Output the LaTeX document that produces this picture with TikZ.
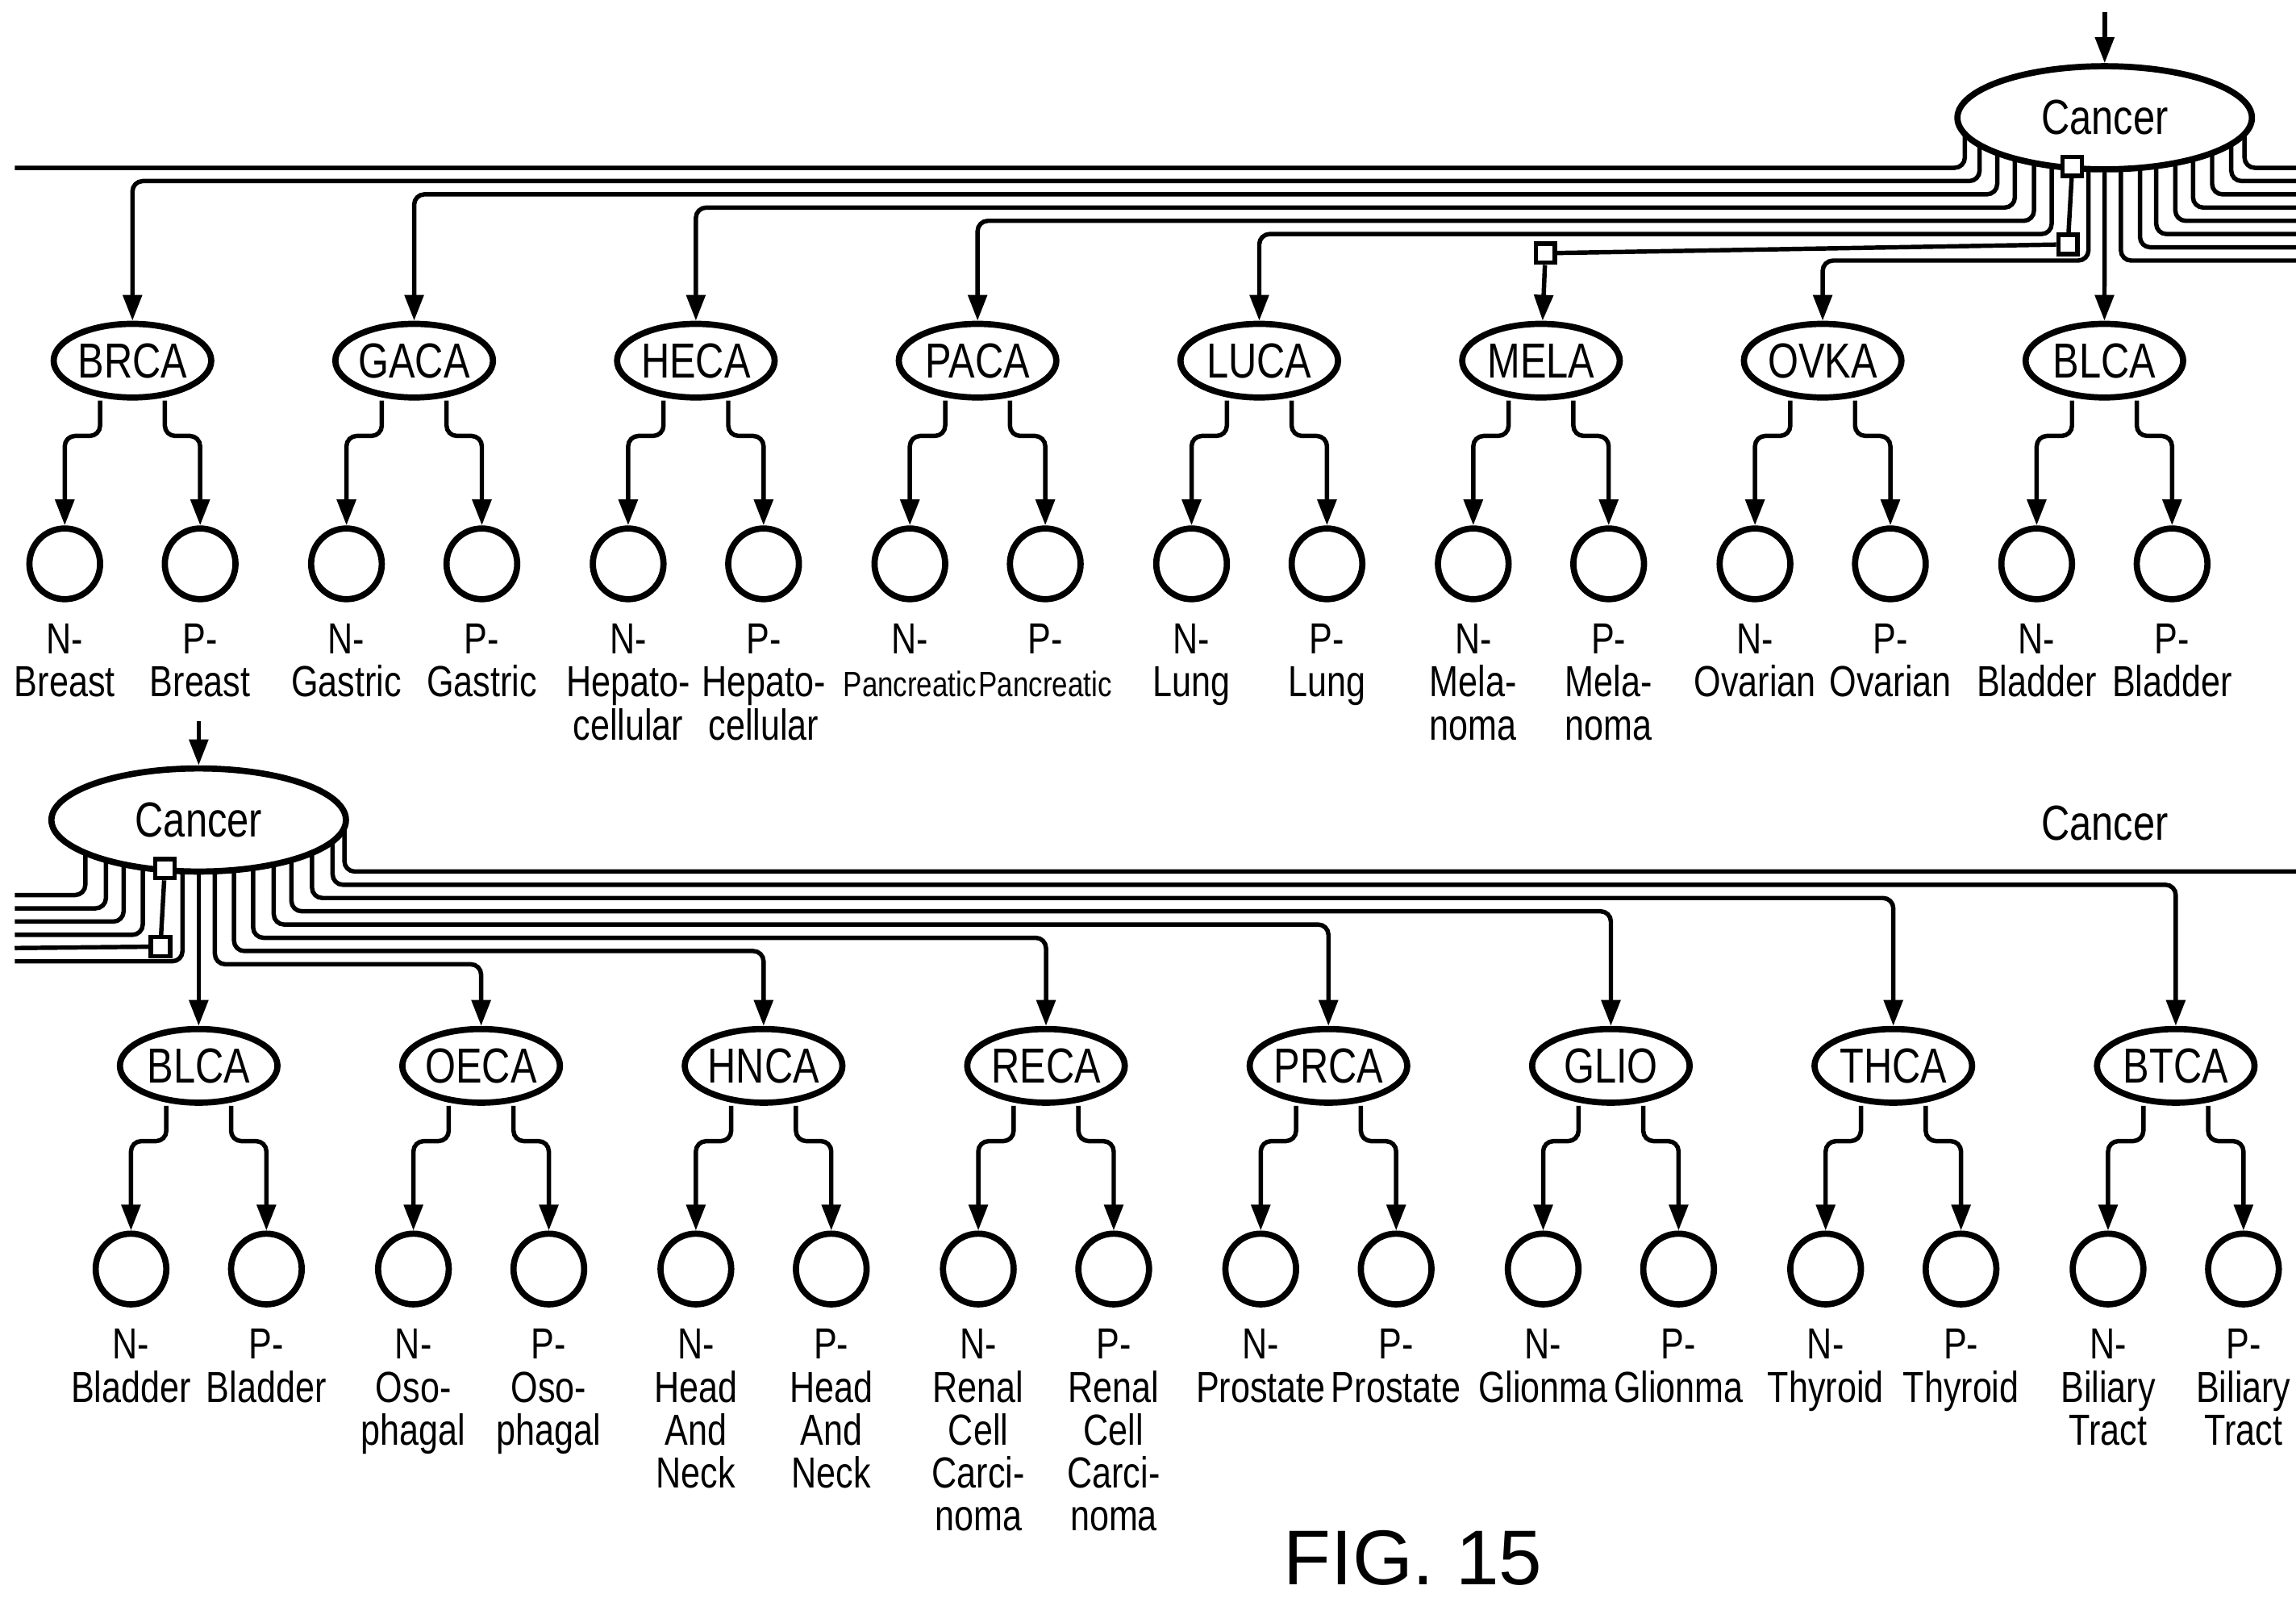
\documentclass[tikz,border=0pt]{standalone}
\usepackage{fontspec}
\setmainfont{Liberation Sans}[FakeStretch=0.8]
\newfontfamily\figfont{Liberation Sans}
\usetikzlibrary{shapes.geometric,arrows.meta,backgrounds}

\begin{document}
\begin{tikzpicture}[x=0.01cm,y=-0.01cm,every node/.style={inner sep=0pt},
  line/.style={line width=0.85pt,rounded corners=0.07cm},
  arr/.style={line,-{Triangle[length=5pt,width=3.6pt]}},
  big/.style={ellipse,draw,line width=1.2pt,fill=white,minimum width=2cm,minimum height=0.7cm,font=\fontsize{9.5}{10}\selectfont},
  kind/.style={ellipse,draw,line width=1.2pt,fill=white,minimum width=1.07cm,minimum height=0.5cm,font=\fontsize{9.5}{10}\selectfont},
  leaf/.style={circle,draw,line width=1.2pt,minimum size=0.48cm},
  lab/.style={anchor=north,align=center,font=\fontsize{8.4}{8.3}\selectfont},
  sq/.style={draw,fill=white,line width=0.85pt,minimum size=0.13cm}]
  \useasboundingbox (0,0) rectangle (1560,1085);

  % upper half
  \node[big] (c1) at (1430,80) {Cancer};
  \coordinate (in1) at (1430,8);
  \draw[arr] (in1) -- (c1);
  \foreach \n/\a/\b [count=\i] in {BRCA/{N-\\Breast}/{P-\\Breast},
      GACA/{N-\\Gastric}/{P-\\Gastric},
      HECA/{N-\\Hepato-\\cellular}/{P-\\Hepato-\\cellular},
      PACA/{N-\\{\fontsize{6.8}{8.3}\selectfont Pancreatic}}/{P-\\{\fontsize{6.8}{8.3}\selectfont Pancreatic}},
      LUCA/{N-\\Lung}/{P-\\Lung},
      MELA/{N-\\Mela-\\noma}/{P-\\Mela-\\noma},
      OVKA/{N-\\Ovarian}/{P-\\Ovarian},
      BLCA/{N-\\Bladder}/{P-\\Bladder}} {
    \node[kind] (t\i) at ({90+191.4*(\i-1)},245) {\n};
    \node[leaf] (tn\i) at ({44+191.4*(\i-1)},383) {};
    \node[leaf] (tp\i) at ({136+191.4*(\i-1)},383) {};
    \node[lab,below=0.14cm] at (tn\i.south) {\a};
    \node[lab,below=0.14cm] at (tp\i.south) {\b};
    \draw[arr] ([shift={(-22,0)}]t\i.south) -- ++(0,24) -| (tn\i);
    \draw[arr] ([shift={(22,0)}]t\i.south) -- ++(0,24) -| (tp\i);
  }
  \node[sq] (s1) at (1408,113) {};
  \node[sq] (s2) at (1405,166) {};
  \node[sq] (s3) at (1050,172) {};
  \begin{scope}[on background layer]
    \draw[line] ([shift={(-95,0)}]c1.center) |- (10,114);
    \foreach \dx/\yy/\i in {-85/123/1,-73/132/2,-61/141/3,-48/150/4,-36/159/5,-11/177/7}
      \draw[arr] ([shift={(\dx,0)}]c1.center) |- (t\i |- 0,\yy) -- (t\i);
    \foreach \dx/\yy in {11/177,24/168,35/159,48/150,60/141,73/132,86/123,95/114}
      \draw[line] ([shift={(\dx,0)}]c1.center) |- (1560,\yy);
    \draw[arr] (c1) -- (t8);
  \end{scope}
  \draw[line] (s1) -- (s2);
  \draw[line] (s2) -- (s3);
  \draw[arr] (s3) -- (t6);

  % lower half
  \node[big] (c2) at (135,557) {Cancer};
  \coordinate (in2) at (135,490);
  \draw[arr] (in2) -- (c2);
  \node[font=\fontsize{9.5}{10}\selectfont] (more) at (1430,559) {Cancer};
  \foreach \n/\a/\b [count=\i] in {BLCA/{N-\\Bladder}/{P-\\Bladder},
      OECA/{N-\\Oso-\\phagal}/{P-\\Oso-\\phagal},
      HNCA/{N-\\Head\\And\\Neck}/{P-\\Head\\And\\Neck},
      RECA/{N-\\Renal\\Cell\\Carci-\\noma}/{P-\\Renal\\Cell\\Carci-\\noma},
      PRCA/{N-\\Prostate}/{P-\\Prostate},
      GLIO/{N-\\Glionma}/{P-\\Glionma},
      THCA/{N-\\Thyroid}/{P-\\Thyroid},
      BTCA/{N-\\Biliary\\Tract}/{P-\\Biliary\\Tract}} {
    \node[kind] (b\i) at ({135+191.9*(\i-1)},724) {\n};
    \node[leaf] (bn\i) at ({89+191.9*(\i-1)},862) {};
    \node[leaf] (bp\i) at ({181+191.9*(\i-1)},862) {};
    \node[lab,below=0.14cm] at (bn\i.south) {\a};
    \node[lab,below=0.14cm] at (bp\i.south) {\b};
    \draw[arr] ([shift={(-22,0)}]b\i.south) -- ++(0,24) -| (bn\i);
    \draw[arr] ([shift={(22,0)}]b\i.south) -- ++(0,24) -| (bp\i);
  }
  \node[sq] (s4) at (112,590) {};
  \node[sq] (s5) at (109,643) {};
  \begin{scope}[on background layer]
    \foreach \dx/\yy in {-77/608,-63/617,-51/626,-38/635,-11/653}
      \draw[line] ([shift={(\dx,0)}]c2.center) |- (10,\yy);
    \draw[line] ([shift={(99,0)}]c2.center) |- (1560,592);
    \foreach \dx/\yy/\i in {91/601/8,77/610/7,63/619/6,51/628/5,37/637/4,24/646/3,11/655/2}
      \draw[arr] ([shift={(\dx,0)}]c2.center) |- (b\i |- 0,\yy) -- (b\i);
    \draw[arr] (c2) -- (b1);
  \end{scope}
  \draw[line] (s4) -- (s5);
  \draw[line] (s5) -- (10,644);

  \node[font=\figfont\fontsize{15}{18}\selectfont] (fig) at (960,1058) {FIG. 15};
\end{tikzpicture}
\end{document}
